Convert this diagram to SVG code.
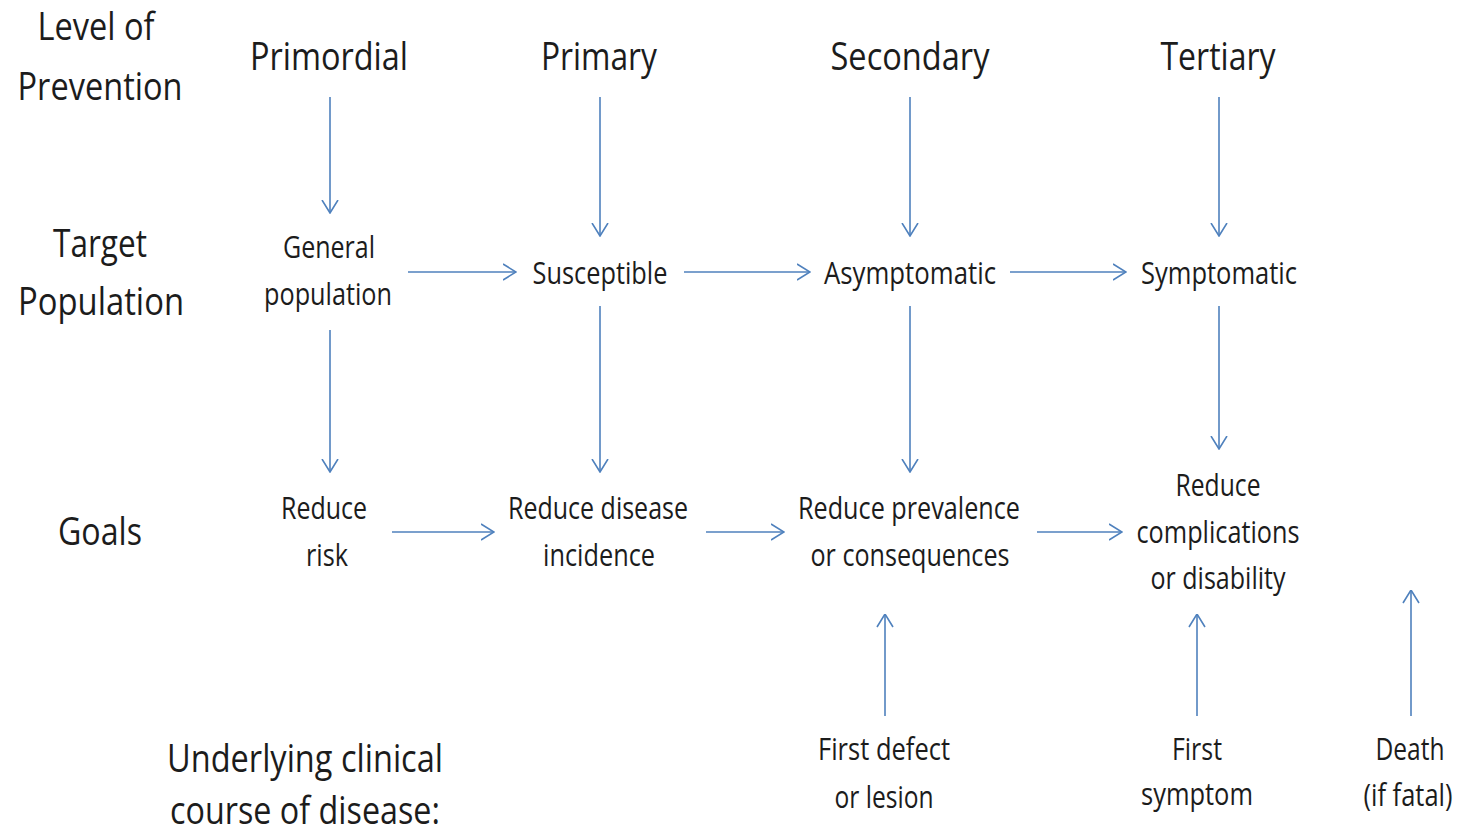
<svg xmlns="http://www.w3.org/2000/svg" width="1461" height="835" viewBox="0 0 1461 835">
<style>
text{font-family:"Open Sans","Noto Sans","Liberation Sans",sans-serif;fill:#1c1c1c;text-anchor:middle}
.h{font-size:39px}
.n{font-size:31px}
.c{stroke:#4F81BD;stroke-width:1.6;fill:none;marker-end:url(#ah)}
</style>
<defs>
<marker id="ah" markerUnits="userSpaceOnUse" viewBox="0 0 14 20" markerWidth="14" markerHeight="20" refX="13.5" refY="10" orient="auto">
<path d="M0.5,2 L13.5,10 L0.5,18" fill="none" stroke="#4F81BD" stroke-width="1.6"/>
</marker>
</defs>
<rect width="1461" height="835" fill="#fff"/>
<g id="row-labels">
<text class="h" x="96" y="40" textLength="117" lengthAdjust="spacingAndGlyphs">Level of</text>
<text class="h" x="100" y="100" textLength="165" lengthAdjust="spacingAndGlyphs">Prevention</text>
<text class="h" x="100" y="257" textLength="94" lengthAdjust="spacingAndGlyphs">Target</text>
<text class="h" x="101" y="315" textLength="166" lengthAdjust="spacingAndGlyphs">Population</text>
<text class="h" x="100" y="545" textLength="84" lengthAdjust="spacingAndGlyphs">Goals</text>
<text class="h" x="305" y="772" textLength="276" lengthAdjust="spacingAndGlyphs">Underlying clinical</text>
<text class="h" x="305" y="824" textLength="270" lengthAdjust="spacingAndGlyphs">course of disease:</text>
</g>
<g id="primordial"><text class="h" x="329" y="70" textLength="158" lengthAdjust="spacingAndGlyphs">Primordial</text></g>
<g id="primary"><text class="h" x="599" y="70" textLength="116" lengthAdjust="spacingAndGlyphs">Primary</text></g>
<g id="secondary"><text class="h" x="910" y="70" textLength="159" lengthAdjust="spacingAndGlyphs">Secondary</text></g>
<g id="tertiary"><text class="h" x="1218" y="70" textLength="115" lengthAdjust="spacingAndGlyphs">Tertiary</text></g>
<g id="general-population">
<text class="n" x="329" y="258" textLength="92" lengthAdjust="spacingAndGlyphs">General</text>
<text class="n" x="328" y="305" textLength="128" lengthAdjust="spacingAndGlyphs">population</text>
</g>
<g id="susceptible"><text class="n" x="600" y="284" textLength="135" lengthAdjust="spacingAndGlyphs">Susceptible</text></g>
<g id="asymptomatic"><text class="n" x="910" y="284" textLength="172" lengthAdjust="spacingAndGlyphs">Asymptomatic</text></g>
<g id="symptomatic"><text class="n" x="1219" y="284" textLength="156" lengthAdjust="spacingAndGlyphs">Symptomatic</text></g>
<g id="reduce-risk">
<text class="n" x="324" y="519" textLength="86" lengthAdjust="spacingAndGlyphs">Reduce</text>
<text class="n" x="327" y="566" textLength="42" lengthAdjust="spacingAndGlyphs">risk</text>
</g>
<g id="reduce-incidence">
<text class="n" x="598" y="519" textLength="180" lengthAdjust="spacingAndGlyphs">Reduce disease</text>
<text class="n" x="599" y="566" textLength="112" lengthAdjust="spacingAndGlyphs">incidence</text>
</g>
<g id="reduce-prevalence">
<text class="n" x="909" y="519" textLength="222" lengthAdjust="spacingAndGlyphs">Reduce prevalence</text>
<text class="n" x="910" y="566" textLength="199" lengthAdjust="spacingAndGlyphs">or consequences</text>
</g>
<g id="reduce-complications">
<text class="n" x="1218" y="496" textLength="85" lengthAdjust="spacingAndGlyphs">Reduce</text>
<text class="n" x="1218" y="543" textLength="163" lengthAdjust="spacingAndGlyphs">complications</text>
<text class="n" x="1218" y="589" textLength="135" lengthAdjust="spacingAndGlyphs">or disability</text>
</g>
<g id="first-defect">
<text class="n" x="884" y="760" textLength="132" lengthAdjust="spacingAndGlyphs">First defect</text>
<text class="n" x="884" y="808" textLength="99" lengthAdjust="spacingAndGlyphs">or lesion</text>
</g>
<g id="first-symptom">
<text class="n" x="1197" y="760" textLength="50" lengthAdjust="spacingAndGlyphs">First</text>
<text class="n" x="1197" y="805" textLength="112" lengthAdjust="spacingAndGlyphs">symptom</text>
</g>
<g id="death">
<text class="n" x="1410" y="760" textLength="69" lengthAdjust="spacingAndGlyphs">Death</text>
<text class="n" x="1408" y="806" textLength="89" lengthAdjust="spacingAndGlyphs">(if fatal)</text>
</g>
<g id="connectors">
<line class="c" x1="330" y1="97" x2="330" y2="213"/>
<line class="c" x1="600" y1="97" x2="600" y2="236"/>
<line class="c" x1="910" y1="97" x2="910" y2="236"/>
<line class="c" x1="1219" y1="97" x2="1219" y2="236"/>
<line class="c" x1="408" y1="272" x2="516" y2="272"/>
<line class="c" x1="684" y1="272" x2="810" y2="272"/>
<line class="c" x1="1010" y1="272" x2="1126" y2="272"/>
<line class="c" x1="330" y1="330" x2="330" y2="472"/>
<line class="c" x1="600" y1="306" x2="600" y2="472"/>
<line class="c" x1="910" y1="306" x2="910" y2="472"/>
<line class="c" x1="1219" y1="306" x2="1219" y2="449"/>
<line class="c" x1="392" y1="532" x2="494" y2="532"/>
<line class="c" x1="706" y1="532" x2="784" y2="532"/>
<line class="c" x1="1037" y1="532" x2="1122" y2="532"/>
<line class="c" x1="885" y1="716" x2="885" y2="614"/>
<line class="c" x1="1197" y1="716" x2="1197" y2="614"/>
<line class="c" x1="1411" y1="716" x2="1411" y2="590"/>
</g>
</svg>
